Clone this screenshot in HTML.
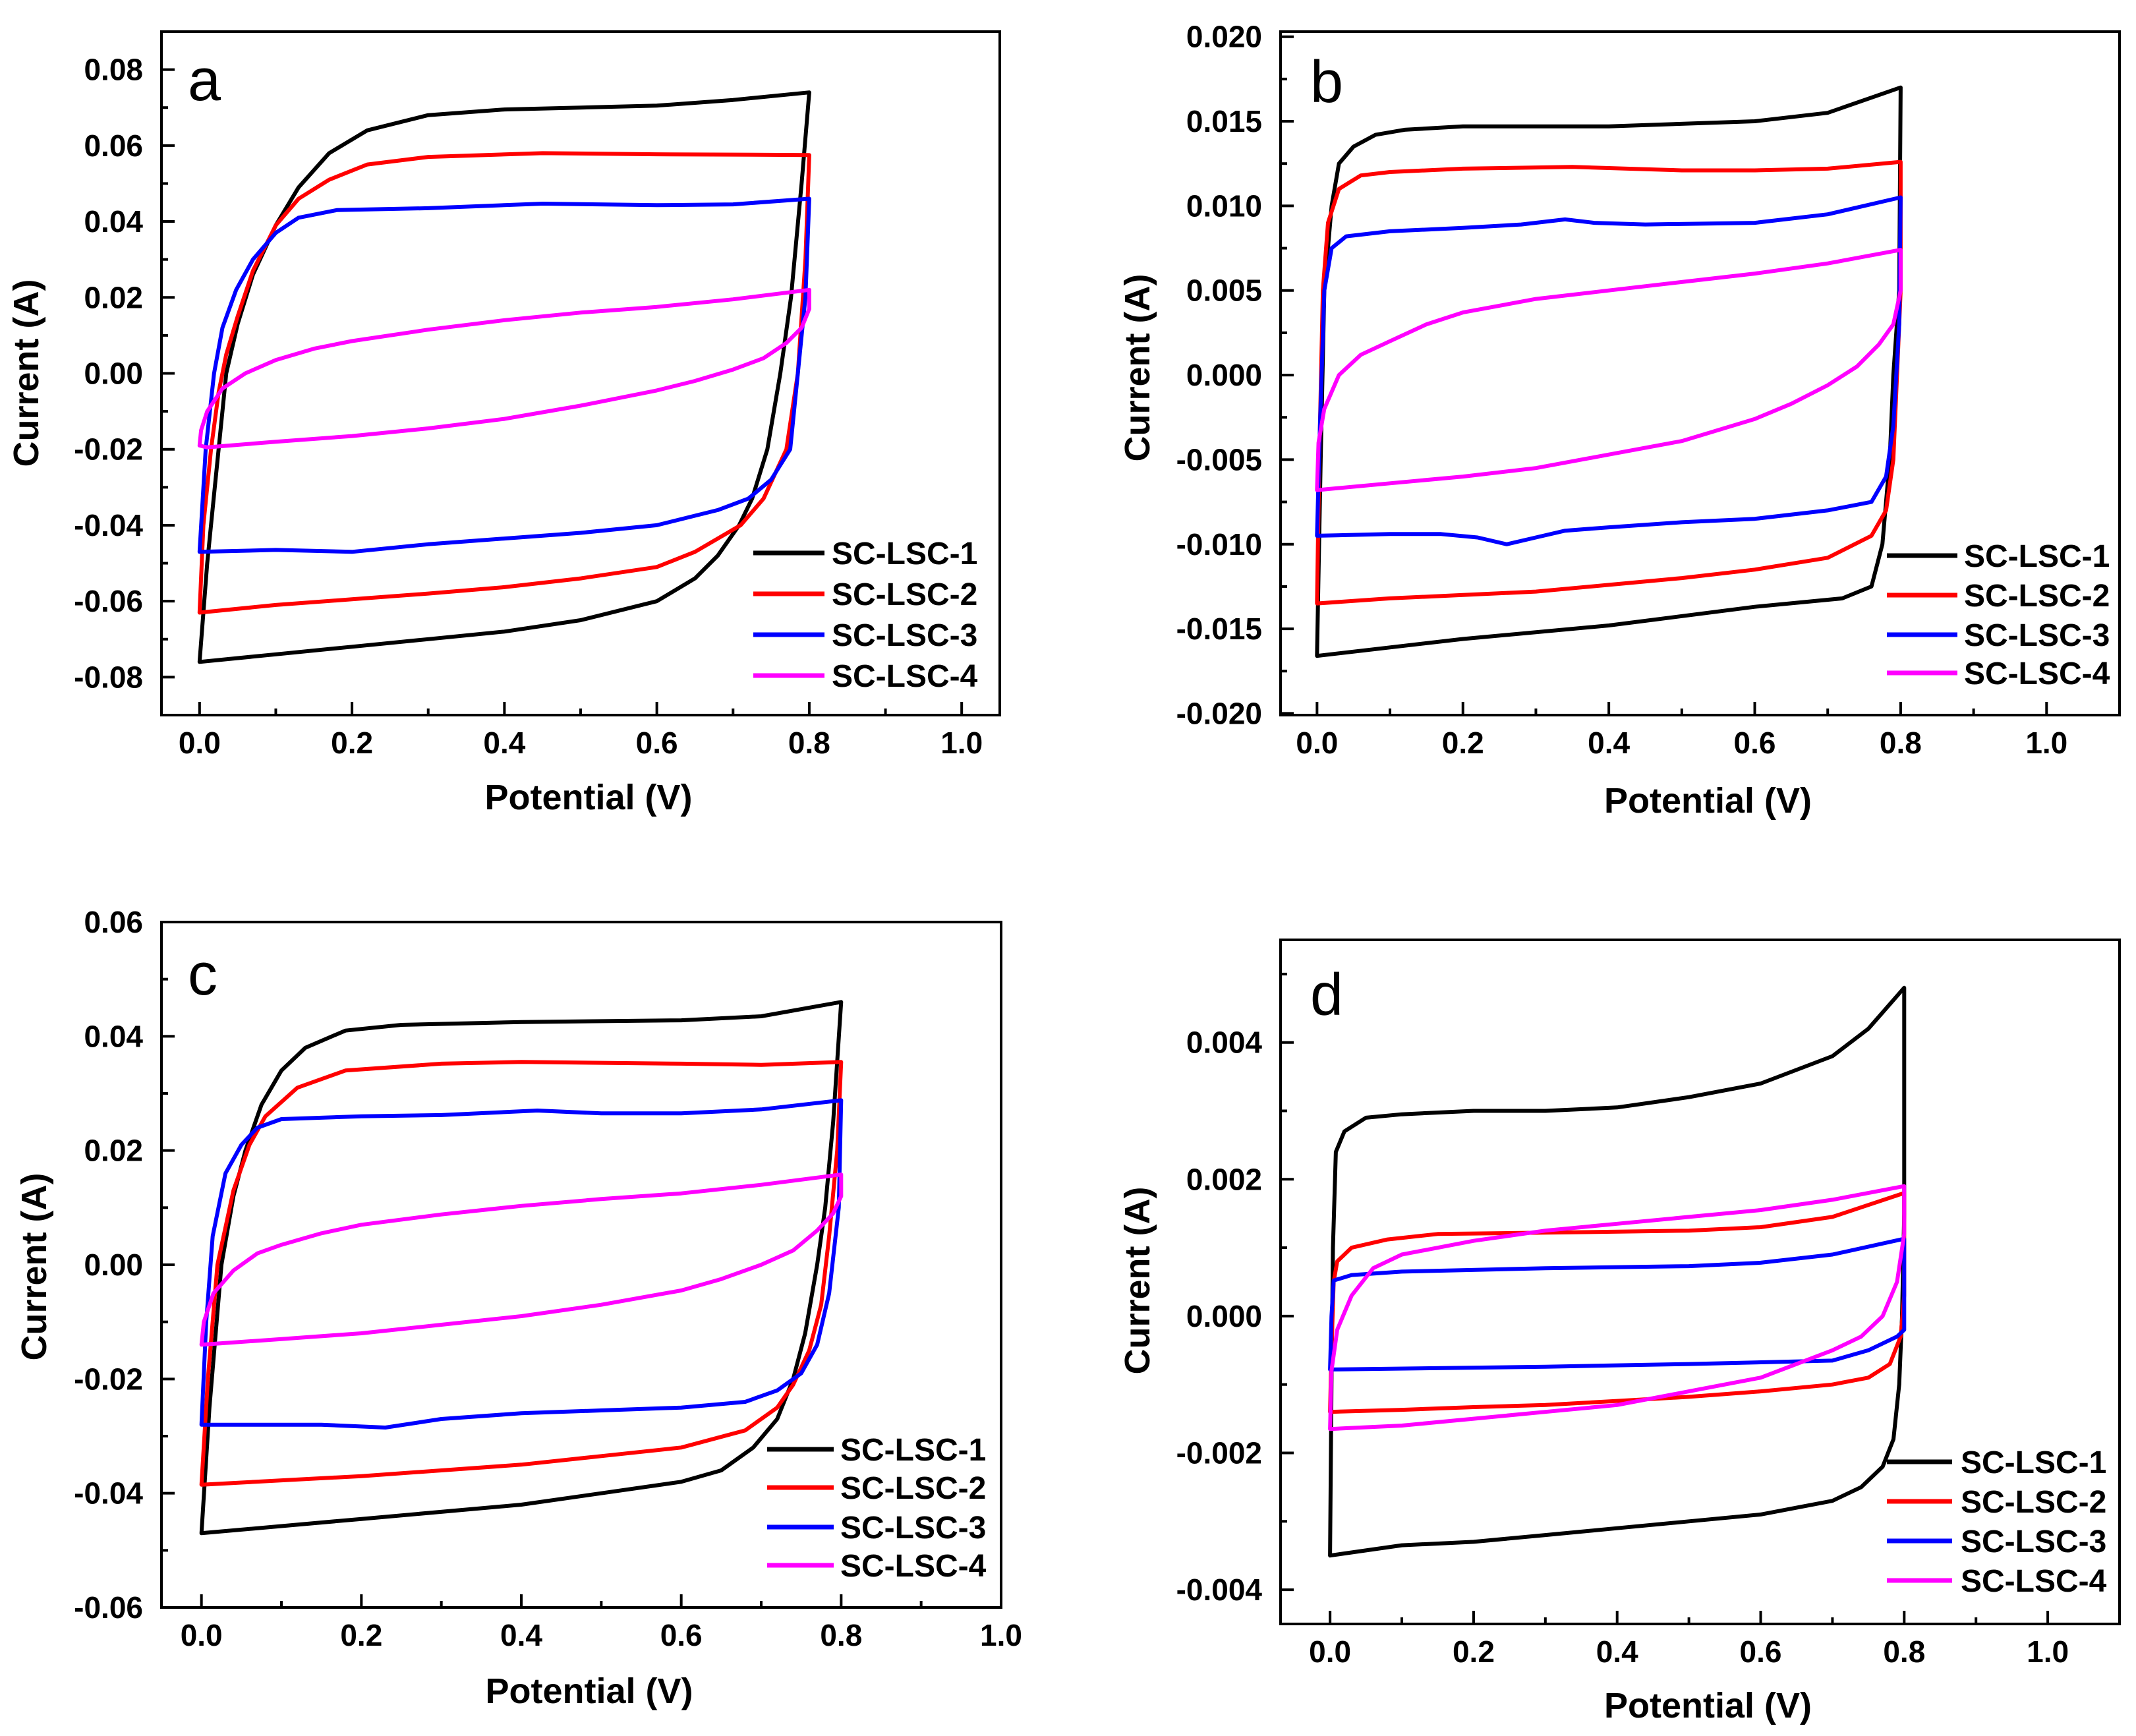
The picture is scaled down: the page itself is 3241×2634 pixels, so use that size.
<!DOCTYPE html>
<html><head><meta charset="utf-8">
<style>
html,body{margin:0;padding:0;background:#fff;}
svg{display:block;font-family:"Liberation Sans",Arial,sans-serif;}
</style></head>
<body>
<svg id="fig" width="3241" height="2634" viewBox="0 0 3241 2634" xmlns="http://www.w3.org/2000/svg"></svg>
<script>
// ---------- DATA (potential V, current A) ----------
const seriesNames = ["SC-LSC-1","SC-LSC-2","SC-LSC-3","SC-LSC-4"];
const seriesColors = ["#000000","#ff0000","#0000ff","#ff00ff"];

const aBlack = [[0,-0.076],[0.01,-0.05],[0.02,-0.03],[0.035,0.0],[0.05,0.013],[0.07,0.026],[0.1,0.039],[0.13,0.049],[0.17,0.058],[0.22,0.064],[0.3,0.068],[0.4,0.0695],[0.5,0.07],[0.6,0.0705],[0.7,0.072],[0.8,0.074],
 [0.79,0.05],[0.776,0.02],[0.762,0.0],[0.745,-0.02],[0.725,-0.033],[0.708,-0.04],[0.68,-0.048],[0.65,-0.054],[0.6,-0.06],[0.5,-0.065],[0.4,-0.068],[0.3,-0.07],[0.2,-0.072],[0.1,-0.074],[0,-0.076]];
const aRed = [[0,-0.063],[0.005,-0.04],[0.015,-0.02],[0.025,-0.005],[0.035,0.005],[0.05,0.015],[0.07,0.027],[0.1,0.039],[0.13,0.046],[0.17,0.051],[0.22,0.055],[0.3,0.057],[0.45,0.058],[0.6,0.0577],[0.8,0.0575],
 [0.795,0.03],[0.785,0.0],[0.77,-0.02],[0.74,-0.033],[0.71,-0.04],[0.65,-0.047],[0.6,-0.051],[0.5,-0.054],[0.4,-0.0563],[0.3,-0.058],[0.2,-0.0595],[0.1,-0.061],[0,-0.063]];
const aBlue = [[0,-0.047],[0.008,-0.02],[0.019,0.0],[0.03,0.012],[0.048,0.022],[0.07,0.030],[0.1,0.037],[0.13,0.041],[0.18,0.043],[0.3,0.0435],[0.45,0.0447],[0.6,0.0443],[0.7,0.0445],[0.8,0.046],
 [0.795,0.02],[0.785,0.0],[0.775,-0.02],[0.75,-0.028],[0.72,-0.033],[0.68,-0.036],[0.6,-0.040],[0.5,-0.042],[0.4,-0.0435],[0.3,-0.045],[0.2,-0.047],[0.1,-0.0465],[0,-0.047]];
const aMagenta = [[0,-0.019],[0.002,-0.015],[0.01,-0.01],[0.03,-0.004],[0.06,0.0],[0.1,0.0035],[0.15,0.0065],[0.2,0.0085],[0.3,0.0115],[0.4,0.014],[0.5,0.016],[0.6,0.0175],[0.7,0.0195],[0.8,0.022],
 [0.8,0.017],[0.79,0.012],[0.77,0.008],[0.74,0.004],[0.7,0.001],[0.65,-0.002],[0.6,-0.0045],[0.5,-0.0085],[0.4,-0.012],[0.3,-0.0145],[0.2,-0.0165],[0.1,-0.018],[0.01,-0.0195],[0,-0.019]];

const bBlack = [[0,-0.0166],[0.005,-0.005],[0.01,0.005],[0.02,0.010],[0.03,0.0125],[0.05,0.0135],[0.08,0.0142],[0.12,0.0145],[0.2,0.0147],[0.4,0.0147],[0.6,0.015],[0.7,0.0155],[0.8,0.017],
 [0.798,0.005],[0.79,0.0],[0.785,-0.005],[0.775,-0.01],[0.76,-0.0125],[0.72,-0.0132],[0.6,-0.0137],[0.4,-0.0148],[0.2,-0.0156],[0.1,-0.0161],[0,-0.0166]];
const bRed = [[0,-0.0135],[0.003,-0.005],[0.008,0.005],[0.015,0.009],[0.03,0.011],[0.06,0.0118],[0.1,0.012],[0.2,0.0122],[0.35,0.0123],[0.5,0.0121],[0.6,0.0121],[0.7,0.0122],[0.8,0.0126],
 [0.8,0.005],[0.795,0.0],[0.79,-0.005],[0.78,-0.008],[0.76,-0.0095],[0.7,-0.0108],[0.6,-0.0115],[0.5,-0.012],[0.4,-0.0124],[0.3,-0.0128],[0.2,-0.013],[0.1,-0.0132],[0,-0.0135]];
const bBlue = [[0,-0.0095],[0.004,-0.003],[0.01,0.005],[0.02,0.0075],[0.04,0.0082],[0.1,0.0085],[0.2,0.0087],[0.28,0.0089],[0.34,0.0092],[0.38,0.009],[0.45,0.0089],[0.6,0.009],[0.7,0.0095],[0.8,0.0105],
 [0.798,0.003],[0.79,-0.003],[0.78,-0.006],[0.76,-0.0075],[0.7,-0.008],[0.6,-0.0085],[0.5,-0.0087],[0.4,-0.009],[0.34,-0.0092],[0.3,-0.0096],[0.26,-0.01],[0.22,-0.0096],[0.17,-0.0094],[0.1,-0.0094],[0,-0.0095]];
const bMagenta = [[0,-0.0068],[0.002,-0.004],[0.01,-0.002],[0.03,0.0],[0.06,0.0012],[0.1,0.002],[0.15,0.003],[0.2,0.0037],[0.3,0.0045],[0.4,0.005],[0.5,0.0055],[0.6,0.006],[0.7,0.0066],[0.8,0.0074],
 [0.8,0.005],[0.79,0.003],[0.77,0.0018],[0.74,0.0005],[0.7,-0.0006],[0.65,-0.0017],[0.6,-0.0026],[0.5,-0.0039],[0.4,-0.0047],[0.3,-0.0055],[0.2,-0.006],[0.1,-0.0064],[0,-0.0068]];

const cBlack = [[0,-0.047],[0.01,-0.025],[0.025,0.0],[0.04,0.012],[0.055,0.02],[0.075,0.028],[0.1,0.034],[0.13,0.038],[0.18,0.041],[0.25,0.042],[0.4,0.0425],[0.6,0.0428],[0.7,0.0435],[0.8,0.046],
 [0.79,0.025],[0.78,0.01],[0.77,0.0],[0.755,-0.012],[0.74,-0.02],[0.72,-0.027],[0.69,-0.032],[0.65,-0.036],[0.6,-0.038],[0.5,-0.04],[0.4,-0.042],[0.2,-0.0445],[0,-0.047]];
const cRed = [[0,-0.0385],[0.008,-0.02],[0.02,0.0],[0.04,0.013],[0.06,0.021],[0.08,0.026],[0.12,0.031],[0.18,0.034],[0.3,0.0352],[0.4,0.0355],[0.6,0.0352],[0.7,0.035],[0.8,0.0355],
 [0.795,0.02],[0.785,0.005],[0.775,-0.007],[0.76,-0.015],[0.74,-0.021],[0.72,-0.025],[0.68,-0.029],[0.6,-0.032],[0.5,-0.0335],[0.4,-0.035],[0.2,-0.037],[0,-0.0385]];
const cBlue = [[0,-0.028],[0.006,-0.01],[0.014,0.005],[0.03,0.016],[0.05,0.021],[0.07,0.024],[0.1,0.0255],[0.2,0.026],[0.3,0.0262],[0.42,0.027],[0.5,0.0265],[0.6,0.0265],[0.7,0.0272],[0.8,0.0288],
 [0.797,0.01],[0.785,-0.005],[0.77,-0.014],[0.75,-0.019],[0.72,-0.022],[0.68,-0.024],[0.6,-0.025],[0.5,-0.0255],[0.4,-0.026],[0.3,-0.027],[0.23,-0.0285],[0.15,-0.028],[0,-0.028]];
const cMagenta = [[0,-0.014],[0.003,-0.01],[0.015,-0.005],[0.04,-0.001],[0.07,0.002],[0.1,0.0035],[0.15,0.0055],[0.2,0.007],[0.3,0.0088],[0.4,0.0103],[0.5,0.0115],[0.6,0.0125],[0.7,0.014],[0.8,0.0158],
 [0.8,0.012],[0.79,0.009],[0.77,0.006],[0.74,0.0025],[0.7,0.0],[0.65,-0.0025],[0.6,-0.0045],[0.5,-0.007],[0.4,-0.009],[0.3,-0.0105],[0.2,-0.012],[0.1,-0.013],[0,-0.014]];

const dBlack = [[0,-0.0035],[0.002,-0.001],[0.004,0.001],[0.008,0.0024],[0.02,0.0027],[0.05,0.0029],[0.1,0.00295],[0.2,0.003],[0.3,0.003],[0.4,0.00305],[0.5,0.0032],[0.6,0.0034],[0.7,0.0038],[0.75,0.0042],[0.8,0.0048],
 [0.8,0.0015],[0.797,0.0],[0.793,-0.001],[0.785,-0.0018],[0.77,-0.0022],[0.74,-0.0025],[0.7,-0.0027],[0.6,-0.0029],[0.5,-0.003],[0.4,-0.0031],[0.3,-0.0032],[0.2,-0.0033],[0.1,-0.00335],[0,-0.0035]];
const dRed = [[0,-0.0014],[0.002,-0.0005],[0.005,0.0005],[0.01,0.0008],[0.03,0.001],[0.08,0.00112],[0.15,0.0012],[0.3,0.00122],[0.5,0.00125],[0.6,0.0013],[0.7,0.00145],[0.8,0.0018],
 [0.8,0.0003],[0.795,-0.0003],[0.78,-0.0007],[0.75,-0.0009],[0.7,-0.001],[0.6,-0.0011],[0.5,-0.00118],[0.4,-0.00124],[0.3,-0.0013],[0.2,-0.00133],[0.1,-0.00137],[0,-0.0014]];
const dBlue = [[0,-0.00078],[0.002,0.0],[0.005,0.00052],[0.03,0.0006],[0.1,0.00065],[0.3,0.0007],[0.5,0.00073],[0.6,0.00078],[0.7,0.0009],[0.8,0.00113],
 [0.8,-0.0002],[0.79,-0.0003],[0.75,-0.0005],[0.7,-0.00065],[0.5,-0.0007],[0.3,-0.00074],[0,-0.00078]];
const dMagenta = [[0,-0.00165],[0.002,-0.0008],[0.01,-0.0002],[0.03,0.0003],[0.06,0.0007],[0.1,0.0009],[0.2,0.0011],[0.3,0.00125],[0.4,0.00135],[0.5,0.00145],[0.6,0.00155],[0.7,0.0017],[0.8,0.0019],
 [0.8,0.0012],[0.79,0.0005],[0.77,0.0],[0.74,-0.0003],[0.7,-0.0005],[0.65,-0.0007],[0.6,-0.0009],[0.5,-0.0011],[0.4,-0.0013],[0.3,-0.0014],[0.2,-0.0015],[0.1,-0.0016],[0,-0.00165]];

const xTickValues = [0.0,0.2,0.4,0.6,0.8,1.0];
const aYTicks = [-0.08,-0.06,-0.04,-0.02,0,0.02,0.04,0.06,0.08];
const bYTicks = [-0.02,-0.015,-0.01,-0.005,0,0.005,0.01,0.015,0.02];
const cYTicks = [-0.06,-0.04,-0.02,0,0.02,0.04,0.06];
const dYTicks = [-0.004,-0.002,0,0.002,0.004];

// ---------- LAYOUT ----------
const panels = [
 {id:"a", L:245,R:1517,T:48,B:1085, xmin:-0.05,xmax:1.05, ymin:-0.09,ymax:0.09, yt:aYTicks, ystep:0.01, dec:2, series:[aBlack,aRed,aBlue,aMagenta],
  leg:{x1:1143,x2:1251,tx:1262,ys:[839,901,963,1025]}, letter:[285,152], ytx:40, yty:566, xty:1210},
 {id:"b", L:1943,R:3216,T:48,B:1085, xmin:-0.05,xmax:1.1, ymin:-0.0201,ymax:0.0203, yt:bYTicks, ystep:0.0025, dec:3, series:[bBlack,bRed,bBlue,bMagenta],
  leg:{x1:2863,x2:2970,tx:2980,ys:[843,903,963,1021]}, letter:[1988,155], ytx:1726, yty:558, xty:1215},
 {id:"c", L:245,R:1519,T:1399,B:2439, xmin:-0.05,xmax:1.0, ymin:-0.06,ymax:0.06, yt:cYTicks, ystep:0.01, dec:2, series:[cBlack,cRed,cBlue,cMagenta],
  leg:{x1:1164,x2:1265,tx:1275,ys:[2199,2257,2317,2375]}, letter:[285,1509], ytx:52, yty:1922, xty:2566},
 {id:"d", L:1943,R:3216,T:1426,B:2464, xmin:-0.069,xmax:1.1, ymin:-0.0045,ymax:0.0055, yt:dYTicks, ystep:0.001, dec:3, series:[dBlack,dRed,dBlue,dMagenta],
  leg:{x1:2863,x2:2962,tx:2975,ys:[2218,2278,2338,2398]}, letter:[1988,1540], ytx:1726, yty:1943, xty:2588}
];

const NS="http://www.w3.org/2000/svg";
const svg=document.getElementById("fig");
function mk(tag,attrs,parent){const e=document.createElementNS(NS,tag);for(const k in attrs)e.setAttribute(k,attrs[k]);(parent||svg).appendChild(e);return e;}

panels.forEach(p=>{
  const g=mk("g",{});
  
  
  const sx=v=>p.L+(v-p.xmin)/(p.xmax-p.xmin)*(p.R-p.L);
  const sy=v=>p.B-(v-p.ymin)/(p.ymax-p.ymin)*(p.B-p.T);

  // series
  p.series.forEach((pts,i)=>{
    const d=pts.map((q,j)=>(j?"L":"M")+sx(q[0]).toFixed(1)+" "+sy(q[1]).toFixed(1)).join(" ")+" Z";
    const path=mk("path",{d:d,fill:"none",stroke:seriesColors[i],"stroke-width":6,"stroke-linejoin":"round","stroke-linecap":"round"},g);
    
    
  });

  // frame
  const fr=mk("rect",{x:p.L,y:p.T,width:p.R-p.L,height:p.B-p.T,fill:"none",stroke:"#000","stroke-width":4},g);
  
  

  // x ticks
  for(let v=0; v<=1.0001; v+=0.1){
    const major=Math.round(v*10)%2===0;
    mk("line",{x1:sx(v),x2:sx(v),y1:p.B,y2:p.B-(major?20:10),stroke:"#000","stroke-width":4},g);
  }
  xTickValues.forEach(v=>{
    const t=mk("text",{x:sx(v),y:p.B+58,"text-anchor":"middle","font-size":46,"font-weight":"bold"},g);
    t.textContent=v.toFixed(1);
    
    
  });
  // y ticks
  const y0=p.yt[0], y1=p.yt[p.yt.length-1];
  for(let v=Math.ceil(p.ymin/p.ystep)*p.ystep; v<=p.ymax+1e-12; v+=p.ystep){
    const major=p.yt.some(t=>Math.abs(t-v)<p.ystep*0.1);
    mk("line",{x1:p.L,x2:p.L+(major?20:10),y1:sy(v),y2:sy(v),stroke:"#000","stroke-width":4},g);
  }
  p.yt.forEach(v=>{
    const t=mk("text",{x:p.L-28,y:sy(v)+16,"text-anchor":"end","font-size":46,"font-weight":"bold"},g);
    t.textContent=(Math.abs(v)<1e-12?0:v).toFixed(p.dec);
    
    
  });
  // titles
  const xt=mk("text",{x:(p.L+p.R)/2+12,y:p.xty+18,"text-anchor":"middle","font-size":54,"font-weight":"bold"},g);
  xt.textContent="Potential (V)";
  
  
  const yt=mk("text",{x:0,y:0,"text-anchor":"middle","font-size":54,"font-weight":"bold",transform:`translate(${p.ytx+18},${p.yty}) rotate(-90)`},g);
  yt.textContent="Current (A)";
  
  
  // panel letter
  const lt=mk("text",{x:p.letter[0],y:p.letter[1],"font-size":90},g);
  lt.textContent=p.id;
  
  
  // legend
  seriesNames.forEach((n,i)=>{
    const ln=mk("line",{x1:p.leg.x1,x2:p.leg.x2,y1:p.leg.ys[i],y2:p.leg.ys[i],stroke:seriesColors[i],"stroke-width":7},g);
    
    
    const t=mk("text",{x:p.leg.tx,y:p.leg.ys[i]+17,"font-size":48,"font-weight":"bold"},g);
    t.textContent=n;
    
    
  });
});
</script>
</body></html>
